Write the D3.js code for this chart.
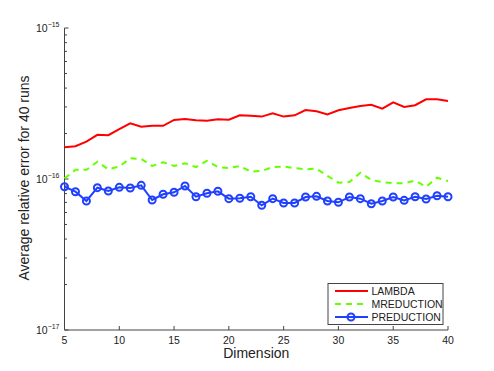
<!DOCTYPE html>
<html>
<head>
<meta charset="utf-8">
<script src="https://cdn.jsdelivr.net/npm/d3@7"></script>
<style>
  body { margin: 0; background: #fff; }
  svg text { font-family: "Liberation Sans", Arial, sans-serif; fill: #222; }
</style>
</head>
<body>
<svg width="494" height="371"></svg>
<script>
var dims = d3.range(5, 41);

// values in units of 1e-16
var lambda = [1.62,1.65,1.77,1.96,1.95,2.14,2.34,2.22,2.25,2.25,2.46,2.50,2.45,2.43,2.49,2.47,
  2.64,2.62,2.59,2.72,2.59,2.64,2.86,2.81,2.68,2.85,2.95,3.04,3.10,2.92,3.22,3.00,3.08,3.37,3.37,3.28];
var mreduction = [1.01,1.15,1.15,1.30,1.16,1.21,1.37,1.36,1.22,1.29,1.22,1.27,1.20,1.32,1.20,1.18,
  1.22,1.12,1.13,1.20,1.21,1.18,1.16,1.17,1.05,0.945,0.955,1.10,0.985,0.955,0.937,0.937,0.975,0.889,1.02,0.97];
var preduction = [0.889,0.824,0.715,0.876,0.833,0.881,0.872,0.908,0.726,0.792,0.817,0.899,0.763,0.804,0.829,0.741,
  0.745,0.763,0.670,0.741,0.694,0.694,0.760,0.768,0.715,0.701,0.760,0.741,0.686,0.715,0.760,0.722,0.763,0.737,0.775,0.763];

var xTicks = [5, 10, 15, 20, 25, 30, 35, 40];
var yMajor = [-17, -16, -15];

var series = [
  { name: "LAMBDA", values: lambda, color: "#ff0000", dash: null, marker: false },
  { name: "MREDUCTION", values: mreduction, color: "#66ff00", dash: "6,5", marker: false },
  { name: "PREDUCTION", values: preduction, color: "#2040ff", dash: null, marker: true }
];

var svg = d3.select("svg");
var plotL = 64.5, plotR = 448, plotT = 28, plotB = 330;

var x = d3.scaleLinear().domain([5, 40]).range([plotL, plotR]);
var y = d3.scaleLog().domain([1e-17, 1e-15]).range([plotB, plotT]);

// y axis
var yAxis = svg.append("g").attr("transform", "translate(" + plotL + ",0)");
yAxis.append("line").attr("y1", plotT).attr("y2", plotB).attr("stroke", "#444");
var minor = [];
[-17, -16].forEach(function(e) {
  for (var m = 2; m <= 9; m++) minor.push(m * Math.pow(10, e));
});
yAxis.selectAll(".minor").data(minor).enter().append("line")
  .attr("x1", 0).attr("x2", 2.5)
  .attr("y1", function(d) { return y(d); }).attr("y2", function(d) { return y(d); })
  .attr("stroke", "#444");
yAxis.selectAll(".major").data(yMajor).enter().append("line")
  .attr("x1", 0).attr("x2", 4)
  .attr("y1", function(d) { return y(Math.pow(10, d)); }).attr("y2", function(d) { return y(Math.pow(10, d)); })
  .attr("stroke", "#444");
var yl = yAxis.selectAll(".lab").data(yMajor).enter().append("text")
  .attr("x", -5).attr("y", function(d) { return y(Math.pow(10, d)) + 4; })
  .attr("text-anchor", "end").style("font-size", "10.5px");
yl.append("tspan").text("10");
yl.append("tspan").attr("dy", -5).style("font-size", "7px").text(function(d) { return "\u2212" + (-d); });

// x axis
var xAxis = svg.append("g").attr("transform", "translate(0," + plotB + ")");
xAxis.append("line").attr("x1", plotL).attr("x2", plotR).attr("stroke", "#444");
xAxis.selectAll(".tick").data(xTicks).enter().append("line")
  .attr("x1", function(d) { return x(d); }).attr("x2", function(d) { return x(d); })
  .attr("y1", 0).attr("y2", -4).attr("stroke", "#444");
xAxis.selectAll(".lab").data(xTicks).enter().append("text")
  .attr("x", function(d) { return x(d); }).attr("y", 14)
  .attr("text-anchor", "middle").style("font-size", "10.5px")
  .text(function(d) { return d; });

svg.append("text").attr("x", (plotL + plotR) / 2).attr("y", 358)
  .attr("text-anchor", "middle").style("font-size", "14px").text("Dimension");
svg.append("text").attr("transform", "translate(29,178) rotate(-90)")
  .attr("text-anchor", "middle").style("font-size", "14px").text("Average relative error for 40 runs");

var line = d3.line()
  .x(function(d, i) { return x(dims[i]); })
  .y(function(d) { return y(d * 1e-16); });

series.forEach(function(s) {
  svg.append("path").attr("d", line(s.values))
    .attr("fill", "none").attr("stroke", s.color).attr("stroke-width", 2)
    .attr("stroke-dasharray", s.dash);
  if (s.marker) {
    svg.append("g").selectAll("circle").data(s.values).enter().append("circle")
      .attr("cx", function(d, i) { return x(dims[i]); })
      .attr("cy", function(d) { return y(d * 1e-16); })
      .attr("r", 3.5).attr("fill", "none").attr("stroke", s.color).attr("stroke-width", 2);
  }
});

// legend
var lg = svg.append("g").attr("transform", "translate(328,283.5)");
lg.append("rect").attr("width", 115).attr("height", 41)
  .attr("fill", "#fff").attr("stroke", "#444").attr("stroke-width", 1);
series.forEach(function(s, i) {
  var yy = 7.5 + i * 13;
  lg.append("line").attr("x1", 7).attr("x2", 40).attr("y1", yy).attr("y2", yy)
    .attr("stroke", s.color).attr("stroke-width", 2).attr("stroke-dasharray", s.dash);
  if (s.marker) {
    lg.append("circle").attr("cx", 23).attr("cy", yy).attr("r", 3.5)
      .attr("fill", "none").attr("stroke", s.color).attr("stroke-width", 2);
  }
  lg.append("text").attr("x", 43.5).attr("y", yy + 4).style("font-size", "10.5px").text(s.name);
});
</script>
</body>
</html>
